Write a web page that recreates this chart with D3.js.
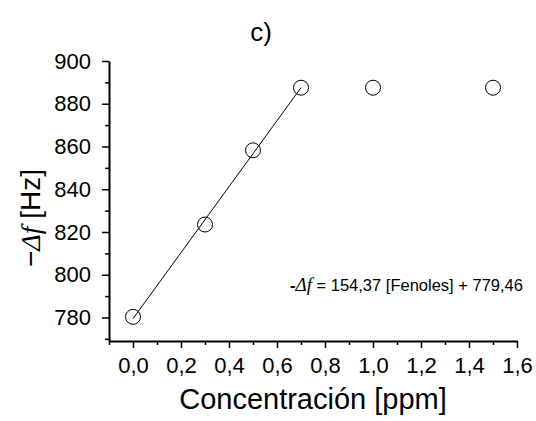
<!DOCTYPE html>
<html>
<head>
<meta charset="utf-8">
<script src="https://cdn.jsdelivr.net/npm/d3@7"></script>
<style>
  body { margin: 0; background: #fff; }
  text { font-family: "Liberation Sans", Arial, sans-serif; fill: #000; }
  .serif { font-family: "Liberation Serif", "Times New Roman", serif; font-style: italic; }
</style>
</head>
<body>
<div id="chart"></div>
<script>
// concentration in ppm and the measured -delta f in Hz
const concentration = [0, 0.3, 0.5, 0.7, 1.0, 1.5];
const deltaF = [780.3, 823.5, 858.2, 887.5, 887.5, 887.5];
// linear fit over the linear range
const fitSlope = 154.37;
const fitIntercept = 779.46;
const fitRange = [0, 0.7];
const xTicks = [0, 0.2, 0.4, 0.6, 0.8, 1.0, 1.2, 1.4, 1.6];
const yTicks = [780, 800, 820, 840, 860, 880, 900];

const width = 536, height = 421;
const margin = { top: 61, right: 19, bottom: 80, left: 109 };

const svg = d3.select("#chart").append("svg")
  .attr("width", width)
  .attr("height", height);

const x = d3.scaleLinear().domain([-0.1, 1.6]).range([margin.left, width - margin.right]);
const y = d3.scaleLinear().domain([769, 900]).range([height - margin.bottom, margin.top]);

const fmt = d => d.toFixed(1).replace(".", ",");

// minor ticks first
svg.append("g")
  .attr("transform", `translate(0,${height - margin.bottom})`)
  .call(d3.axisBottom(x).tickValues(d3.range(-0.1, 1.6, 0.2)).tickSize(4).tickFormat(""))
  .call(g => g.select(".domain").remove())
  .call(g => g.selectAll("line").attr("stroke-width", 1.5));

svg.append("g")
  .attr("transform", `translate(${margin.left},0)`)
  .call(d3.axisLeft(y).tickValues(d3.range(770, 900, 20)).tickSize(4).tickFormat(""))
  .call(g => g.select(".domain").remove())
  .call(g => g.selectAll("line").attr("stroke-width", 1.5));

const xAxis = svg.append("g")
  .attr("transform", `translate(0,${height - margin.bottom})`)
  .call(d3.axisBottom(x).tickValues(xTicks).tickSize(7).tickSizeOuter(0).tickPadding(8).tickFormat(fmt));
xAxis.select(".domain").attr("stroke-width", 2);
xAxis.selectAll("line").attr("stroke-width", 1.5);
xAxis.selectAll("text").attr("font-size", 22).attr("dy", "0.75em");

const yAxis = svg.append("g")
  .attr("transform", `translate(${margin.left},0)`)
  .call(d3.axisLeft(y).tickValues(yTicks).tickSize(7).tickSizeOuter(0).tickPadding(11));
yAxis.select(".domain").attr("stroke-width", 2);
yAxis.selectAll("line").attr("stroke-width", 1.5);
yAxis.selectAll("text").attr("font-size", 22);

// fit line
svg.append("line")
  .attr("x1", x(fitRange[0]))
  .attr("y1", y(fitSlope * fitRange[0] + fitIntercept))
  .attr("x2", x(fitRange[1]))
  .attr("y2", y(fitSlope * fitRange[1] + fitIntercept))
  .attr("stroke", "#000")
  .attr("stroke-width", 1);

// points
svg.append("g")
  .selectAll("circle")
  .data(concentration.map((c, i) => ({ c, v: deltaF[i] })))
  .join("circle")
  .attr("cx", d => x(d.c))
  .attr("cy", d => y(d.v))
  .attr("r", 7.5)
  .attr("fill", "none")
  .attr("stroke", "#000")
  .attr("stroke-width", 1);

// title
svg.append("text")
  .attr("x", 261).attr("y", 41)
  .attr("text-anchor", "middle")
  .attr("font-size", 26)
  .text("c)");

// x title
svg.append("text")
  .attr("x", 313).attr("y", 409)
  .attr("text-anchor", "middle")
  .attr("font-size", 29)
  .text("Concentración [ppm]");

// y title
const yl = svg.append("text")
  .attr("transform", "translate(40,218) rotate(-90)")
  .attr("text-anchor", "middle")
  .attr("font-size", 28);
yl.append("tspan").text("\u2212");
yl.append("tspan").attr("class", "serif").text("\u0394f");
yl.append("tspan").text(" [Hz]");

// equation
const eq = svg.append("text")
  .attr("x", 290).attr("y", 291)
  .attr("font-size", 16.5);
eq.append("tspan").attr("font-weight", "bold").text("-");
eq.append("tspan").attr("class", "serif").attr("font-size", 19).text("\u0394f");
eq.append("tspan").text(" = 154,37 [Fenoles] + 779,46");
</script>
</body>
</html>
